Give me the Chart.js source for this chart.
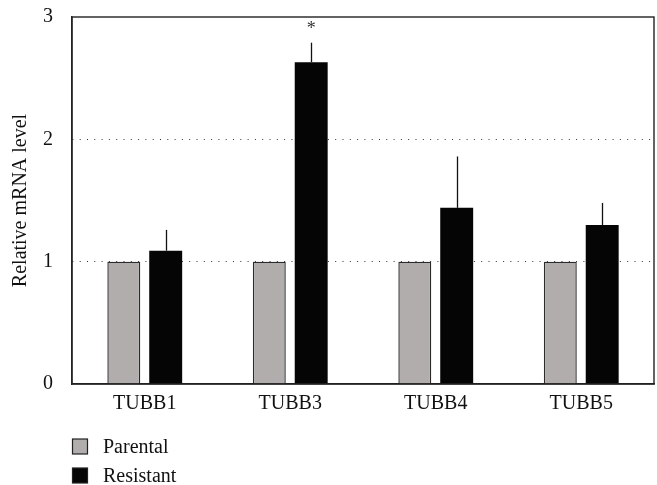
<!DOCTYPE html>
<html>
<head>
<meta charset="utf-8">
<script src="https://cdn.jsdelivr.net/npm/chart.js@4"></script>
<style>
  html, body { margin: 0; padding: 0; background: #fff; }
  #wrap { width: 657px; height: 485px; position: relative; }
</style>
</head>
<body>
<div id="wrap"><canvas id="c" width="657" height="485"></canvas></div>
<script>
const categories = ["TUBB1", "TUBB3", "TUBB4", "TUBB5"];
const parentalValues = [1, 1, 1, 1];
const resistantValues = [1.09, 2.63, 1.44, 1.30];
const resistantErrors = [0.17, 0.16, 0.42, 0.18];
const significance = ["", "*", "", ""];
const yTicks = [0, 1, 2, 3];
const seriesNames = ["Parental", "Resistant"];

const FONT = "'Liberation Serif', 'DejaVu Serif', serif";
const parentalColor = "#b1adac";
const resistantColor = "#050505";

const framePlugin = {
  id: 'frame',
  afterDatasetsDraw(chart) {
    const ctx = chart.ctx;
    const a = chart.chartArea;
    const y = chart.scales.y;
    const meta = chart.getDatasetMeta(1);
    ctx.save();
    ctx.strokeStyle = '#111';
    ctx.lineWidth = 1.3;
    meta.data.forEach((bar, i) => {
      const top = y.getPixelForValue(resistantValues[i] + resistantErrors[i]);
      const base = y.getPixelForValue(resistantValues[i]);
      ctx.beginPath();
      ctx.moveTo(Math.round(bar.x) + 0.5, base);
      ctx.lineTo(Math.round(bar.x) + 0.5, top);
      ctx.stroke();
      if (significance[i]) {
        ctx.fillStyle = '#333';
        ctx.font = "18px " + FONT;
        ctx.textAlign = 'center';
        ctx.textBaseline = 'middle';
        ctx.fillText(significance[i], bar.x, top - 13);
      }
    });
    ctx.strokeStyle = '#222';
    ctx.lineWidth = 1.4;
    ctx.strokeRect(a.left, a.top, a.right - a.left, a.bottom - a.top);
    ctx.restore();
  },
  afterDraw(chart) {
    const ctx = chart.ctx;
    const a = chart.chartArea;
    ctx.save();
    const items = [
      { name: seriesNames[0], fill: parentalColor },
      { name: seriesNames[1], fill: resistantColor }
    ];
    items.forEach((it, i) => {
      const top = 439 + i * 29;
      ctx.fillStyle = it.fill;
      ctx.fillRect(a.left + 0.5, top, 15, 15);
      ctx.strokeStyle = '#222';
      ctx.lineWidth = 1.2;
      ctx.strokeRect(a.left + 0.5, top, 15, 15);
      ctx.fillStyle = '#111';
      ctx.font = "20px " + FONT;
      ctx.textAlign = 'left';
      ctx.textBaseline = 'alphabetic';
      ctx.fillText(it.name, a.left + 31, top + 14);
    });
    ctx.restore();
  }
};

new Chart(document.getElementById('c'), {
  type: 'bar',
  data: {
    labels: categories,
    datasets: [
      {
        label: seriesNames[0],
        data: parentalValues,
        backgroundColor: parentalColor,
        borderColor: '#2a2a2a',
        borderWidth: 1.4,
        borderSkipped: 'bottom',
        barPercentage: 0.786,
        categoryPercentage: 0.576
      },
      {
        label: seriesNames[1],
        data: resistantValues,
        backgroundColor: resistantColor,
        borderColor: resistantColor,
        borderWidth: 0,
        barPercentage: 0.786,
        categoryPercentage: 0.576
      }
    ]
  },
  options: {
    responsive: false,
    animation: false,
    devicePixelRatio: 1,
    layout: { padding: { top: 17, right: 3, left: 0, bottom: 0 } },
    plugins: {
      legend: { display: false },
      tooltip: { enabled: false }
    },
    scales: {
      x: {
        grid: { display: false, drawTicks: false },
        border: { display: true, color: '#222', width: 1.4 },
        ticks: { color: '#111', font: { family: FONT, size: 20 }, padding: 8, maxRotation: 0 },
        afterFit(scale) { scale.height = 101; scale.paddingLeft = 0; scale.paddingRight = 0; }
      },
      y: {
        min: 0,
        max: 3,
        afterBuildTicks(scale) { scale.ticks = yTicks.map(v => ({ value: v })); },
        grid: {
          drawTicks: false,
          color: (c) => (c.tick && (c.tick.value === 1 || c.tick.value === 2)) ? '#333' : 'rgba(0,0,0,0)',
          lineWidth: 1
        },
        border: { display: true, color: '#222', width: 1.4, dash: [1, 6.3] },
        ticks: { color: '#111', font: { family: FONT, size: 20 }, padding: 19 },
        title: {
          display: true,
          text: 'Relative mRNA level',
          color: '#111',
          font: { family: FONT, size: 20 },
          padding: { top: 9, bottom: 0 }
        },
        afterFit(scale) { scale.width = 72; scale.paddingTop = 0; scale.paddingBottom = 0; }
      }
    }
  },
  plugins: [framePlugin]
});
</script>
</body>
</html>
